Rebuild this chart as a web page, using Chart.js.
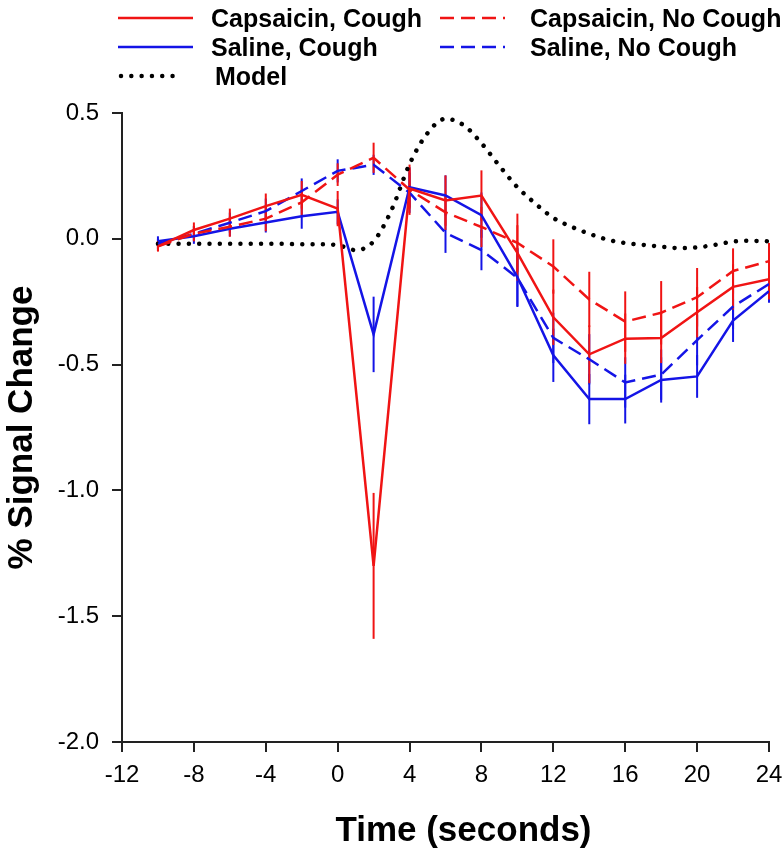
<!DOCTYPE html>
<html>
<head>
<meta charset="utf-8">
<script src="https://cdn.jsdelivr.net/npm/chart.js@4"></script>
<style>
  html, body { margin: 0; padding: 0; background: #fff; }
  #wrap { position: relative; width: 782px; height: 853px; }
  #legend { position: absolute; left: 0; top: 0; width: 782px; height: 100px;
            font: bold 25px "Liberation Sans", Arial, sans-serif; color: #000; }
  #legend svg, #legend span { position: absolute; }
  #legend span { line-height: 26px; white-space: nowrap; }
</style>
</head>
<body>
<div id="wrap">
  <canvas id="grafico" width="782" height="853"></canvas>
  <div id="legend"></div>
</div>
<script>
// time points (s)
const times = [-10, -8, -6, -4, -2, 0, 2, 4, 6, 8, 10, 12, 14, 16, 18, 20, 22, 24];

// % signal change for each condition
const capCough   = [-0.03, 0.035, 0.08, 0.13, 0.175, 0.12, -1.30, 0.20, 0.152, 0.172, -0.056, -0.312, -0.459, -0.397, -0.394, -0.292, -0.191, -0.161];
const capNoCough = [-0.03, 0.02, 0.048, 0.08, 0.145, 0.255, 0.322, 0.195, 0.105, 0.047, -0.016, -0.11, -0.241, -0.329, -0.294, -0.232, -0.128, -0.089];
const salCough   = [-0.01, 0.01, 0.04, 0.065, 0.09, 0.107, -0.38, 0.205, 0.172, 0.094, -0.152, -0.463, -0.637, -0.637, -0.561, -0.547, -0.325, -0.208];
const salNoCough = [-0.02, 0.02, 0.064, 0.11, 0.19, 0.27, 0.294, 0.183, 0.024, -0.045, -0.155, -0.394, -0.479, -0.571, -0.54, -0.403, -0.269, -0.18];

// standard errors (vertical bars)
const capCoughSE   = [0.02, 0.03, 0.04, 0.05, 0.055, 0.07, 0.29, 0.08, 0.10, 0.10, 0.11, 0.11, 0.115, 0.10, 0.10, 0.10, 0.09, 0.08];
const capNoCoughSE = [0.02, 0.03, 0.04, 0.05, 0.05, 0.045, 0.06, 0.10, 0.07, 0.08, 0.116, 0.108, 0.11, 0.12, 0.126, 0.116, 0.09, 0.072];
const salCoughSE   = [0.02, 0.03, 0.03, 0.04, 0.05, 0.05, 0.15, 0.08, 0.08, 0.09, 0.116, 0.106, 0.10, 0.097, 0.09, 0.085, 0.085, 0.046];
const salNoCoughSE = [0.02, 0.03, 0.04, 0.05, 0.05, 0.046, 0.04, 0.08, 0.08, 0.08, 0.116, 0.10, 0.10, 0.10, 0.10, 0.10, 0.09, 0.06];

// model response, 1 s steps
const modelTimes = [-10, -9, -8, -7, -6, -5, -4, -3, -2, -1, 0, 1, 2, 3, 4, 5, 6, 7, 8, 9, 10, 11, 12, 13, 14, 15, 16, 17, 18, 19, 20, 21, 22, 23, 24];
const model = [-0.02, -0.02, -0.02, -0.02, -0.02, -0.02, -0.02, -0.02, -0.022, -0.022, -0.025, -0.045, -0.01, 0.115, 0.297, 0.42, 0.477, 0.452, 0.38, 0.29, 0.205, 0.14, 0.083, 0.048, 0.02, -0.003, -0.017, -0.024, -0.031, -0.037, -0.034, -0.024, -0.011, -0.008, -0.01];

const xTicks = [-12, -8, -4, 0, 4, 8, 12, 16, 20, 24];
const yTicks = [-2.0, -1.5, -1.0, -0.5, 0.0, 0.5];

const ROJO = '#f01414';
const AZUL = '#1414e6';
const DASH = [14, 7];
const DOTS = [0.01, 10.3];
const FAMILIA = '"Liberation Sans", Arial, sans-serif';

const pts = (xs, ys) => xs.map((t, i) => ({ x: t, y: ys[i] }));

// error bars drawn under the lines, blue first so red sits on top
const barrasError = {
  id: 'barrasError',
  beforeDatasetsDraw(chart) {
    const { ctx, scales: { x, y } } = chart;
    ctx.save();
    ctx.lineWidth = 2;
    [3, 2, 1, 0].forEach(i => {
      const ds = chart.data.datasets[i];
      ctx.strokeStyle = ds.borderColor;
      ds.data.forEach((p, j) => {
        const e = ds.errores[j];
        const px = x.getPixelForValue(p.x);
        ctx.beginPath();
        ctx.moveTo(px, y.getPixelForValue(p.y - e));
        ctx.lineTo(px, y.getPixelForValue(p.y + e));
        ctx.stroke();
      });
    });
    ctx.restore();
  }
};

// x title sits a little right of the axis centre in the original
const tituloX = {
  id: 'tituloX',
  afterDraw(chart) {
    const { ctx, scales: { x } } = chart;
    ctx.save();
    ctx.fillStyle = '#000';
    ctx.font = 'bold 35px ' + FAMILIA;
    ctx.textAlign = 'center';
    ctx.textBaseline = 'middle';
    ctx.fillText('Time (seconds)', x.getPixelForValue(7), 831);
    ctx.restore();
  }
};

const fuenteTick = { family: FAMILIA, size: 24 };
const fuenteTitulo = { family: FAMILIA, size: 35, weight: 'bold' };

const ctx = document.getElementById('grafico').getContext('2d');
const myChart = new Chart(ctx, {
  type: 'line',
  data: {
    datasets: [
      { label: 'Capsaicin, Cough', data: pts(times, capCough), errores: capCoughSE,
        borderColor: ROJO, borderWidth: 2.5 },
      { label: 'Capsaicin, No Cough', data: pts(times, capNoCough), errores: capNoCoughSE,
        borderColor: ROJO, borderWidth: 2.5, borderDash: DASH },
      { label: 'Saline, Cough', data: pts(times, salCough), errores: salCoughSE,
        borderColor: AZUL, borderWidth: 2.5 },
      { label: 'Saline, No Cough', data: pts(times, salNoCough), errores: salNoCoughSE,
        borderColor: AZUL, borderWidth: 2.5, borderDash: DASH },
      { label: 'Model', data: pts(modelTimes, model),
        borderColor: '#000', borderWidth: 4.5, borderDash: DOTS, borderCapStyle: 'round',
        cubicInterpolationMode: 'monotone' }
    ]
  },
  options: {
    responsive: false,
    animation: false,
    events: [],
    elements: { point: { radius: 0 }, line: { tension: 0 } },
    layout: { padding: { top: 113, right: 13, bottom: 0, left: 0 } },
    plugins: { legend: { display: false }, tooltip: { enabled: false } },
    scales: {
      x: {
        type: 'linear', min: -12, max: 24,
        afterFit: s => { s.height = 111; s.paddingRight = 0; s.paddingLeft = 0; },
        afterBuildTicks: s => { s.ticks = xTicks.map(v => ({ value: v })); },
        ticks: { color: '#000', font: fuenteTick, padding: 9, maxRotation: 0, callback: v => String(v) },
        grid: { drawOnChartArea: false, drawTicks: true, tickLength: 10, color: '#222', lineWidth: 2 },
        border: { display: true, color: '#222', width: 2 },
        title: { display: false }
      },
      y: {
        type: 'linear', min: -2, max: 0.5,
        afterFit: s => { s.width = 122; },
        afterBuildTicks: s => { s.ticks = yTicks.map(v => ({ value: v })); },
        ticks: { color: '#000', font: fuenteTick, padding: 13, callback: v => v.toFixed(1) },
        grid: { drawOnChartArea: false, drawTicks: true, tickLength: 10, color: '#222', lineWidth: 2 },
        border: { display: true, color: '#222', width: 2 },
        title: { display: true, text: '% Signal Change', color: '#000', font: fuenteTitulo,
                 padding: { top: 1, bottom: 0 } }
      }
    }
  },
  plugins: [barrasError, tituloX]
});

// legend: two columns, three rows
const filas = [18, 47, 76];
const leyenda = [
  { ds: 0, x1: 118, x2: 193, tx: 211, fila: 0 },
  { ds: 1, x1: 440, x2: 505, tx: 530, fila: 0 },
  { ds: 2, x1: 118, x2: 193, tx: 211, fila: 1 },
  { ds: 3, x1: 440, x2: 505, tx: 530, fila: 1 },
  { ds: 4, x1: 121, x2: 175, tx: 215, fila: 2 }
];
const caja = document.getElementById('legend');
leyenda.forEach(it => {
  const ds = myChart.data.datasets[it.ds];
  const y = filas[it.fila];
  const w = it.x2 - it.x1 + 6;
  const svg = document.createElementNS('http://www.w3.org/2000/svg', 'svg');
  svg.setAttribute('width', w);
  svg.setAttribute('height', 10);
  svg.style.left = (it.x1 - 3) + 'px';
  svg.style.top = (y - 5) + 'px';
  const ln = document.createElementNS('http://www.w3.org/2000/svg', 'line');
  ln.setAttribute('x1', 3); ln.setAttribute('x2', w - 3);
  ln.setAttribute('y1', 5); ln.setAttribute('y2', 5);
  ln.setAttribute('stroke', ds.borderColor);
  ln.setAttribute('stroke-width', ds.borderWidth);
  if (ds.borderDash) ln.setAttribute('stroke-dasharray', ds.borderDash.join(' '));
  if (ds.borderCapStyle) ln.setAttribute('stroke-linecap', ds.borderCapStyle);
  svg.appendChild(ln);
  caja.appendChild(svg);
  const sp = document.createElement('span');
  sp.textContent = ds.label;
  sp.style.left = it.tx + 'px';
  sp.style.top = (y - 13) + 'px';
  caja.appendChild(sp);
});
</script>
</body>
</html>
